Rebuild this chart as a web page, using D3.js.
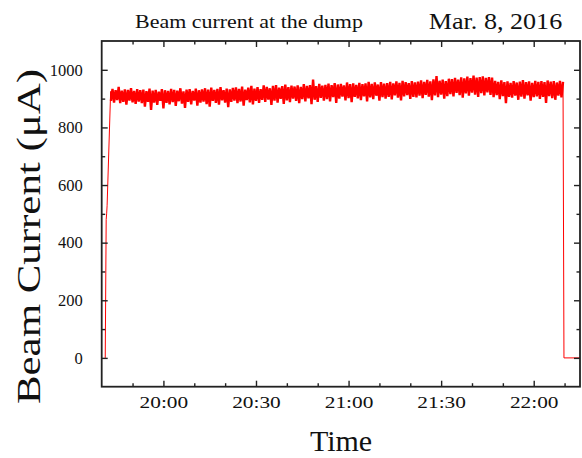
<!DOCTYPE html>
<html>
<head>
<meta charset="utf-8">
<script src="https://cdn.jsdelivr.net/npm/d3@7"></script>
<style>
  html, body { margin: 0; padding: 0; background: #fff; }
  svg { display: block; }
</style>
</head>
<body>
<svg id="chart" width="582" height="458"></svg>
<script>
// ---------------- data ----------------
const chartTitle = "Beam current at the dump";
const chartDate = "Mar. 8, 2016";
const xTitle = "Time";
const yTitle = "Beam Current (\u03bcA)";

const day = "2016-03-08";
const xDomainTimes = ["19:40", "22:15"];
const xMajorTicks = ["20:00", "20:30", "21:00", "21:30", "22:00"];
const xMinorTicks = ["19:50", "20:10", "20:20", "20:40", "20:50", "21:10", "21:20", "21:40", "21:50", "22:10"];
const yDomain = [-100, 1100];
const yMajorTicks = [0, 200, 400, 600, 800, 1000];
const yMinorTicks = [100, 300, 500, 700, 900];

// beam switch-on (minutes after 19:40, µA)
const rampMinutes = [1.15, 1.45, 1.6, 1.75, 2.9];
const rampValues  = [0, 480, 500, 528, 925];

// beam current samples every 0.5 min from 19:43 (alternating low / high readings of the noisy trace)
const noiseStartMinute = 3;
const noiseStepMinute = 0.5;
const noiseValues = [
  892,934,886,929,895,941,884,928,889,932,879,930,893,936,887,927,882,933,890,929,
  884,931,872,926,889,935,861,928,886,930,878,924,892,933,866,929,885,927,880,934,
  888,930,875,928,891,936,883,925,868,931,889,933,880,927,893,935,876,929,886,932,
  890,936,881,931,872,938,892,930,885,934,879,940,894,929,886,935,870,932,889,937,
  893,939,884,934,890,942,876,931,895,938,887,944,880,935,892,940,885,933,896,946,
  889,941,897,936,878,944,893,947,886,938,899,943,882,949,894,940,888,945,900,942,
  892,946,884,941,898,950,890,944,901,947,881,966,896,943,889,951,903,945,893,948,
  898,952,890,947,905,954,885,949,900,951,907,946,894,956,902,950,888,953,906,948,
  901,955,895,950,908,953,890,958,904,951,898,956,910,949,893,957,905,952,900,954,
  906,958,897,953,911,960,903,955,894,962,908,957,912,954,899,961,906,956,904,959,
  910,963,902,958,913,965,907,960,895,967,911,978,905,962,914,966,900,961,909,969,
  916,968,908,972,920,966,912,974,903,970,918,976,910,971,921,980,914,973,906,975,
  919,977,911,972,922,975,913,973,905,962,912,958,898,963,909,957,884,960,906,955,
  903,961,910,956,896,959,907,964,900,957,911,960,893,955,905,962,908,958,899,961,
  906,957,885,963,909,959,902,961,896,956,910,962,904,958
];

// beam switch-off
const tailMinutes = [149.8, 156];
const tailValues  = [0, 0];

// ---------------- drawing ----------------
const W = 582, H = 458;
const M = { left: 101.7, right: 2, top: 41, bottom: 71.3 };
const FONT = '"Liberation Serif", "Times New Roman", serif';
const svg = d3.select("#chart");
const parse = d3.timeParse("%Y-%m-%d %H:%M");
const t = s => parse(day + " " + s);
const t0 = t(xDomainTimes[0]);
const fromMin = m => new Date(t0.getTime() + m * 60000);

const x = d3.scaleTime().domain(xDomainTimes.map(t)).range([M.left, W - M.right]);
const y = d3.scaleLinear().domain(yDomain).range([H - M.bottom, M.top]);

const rampPts = rampMinutes.map((m, i) => [fromMin(m), rampValues[i]]);
const noisePts = noiseValues.map((v, i) => [fromMin(noiseStartMinute + i * noiseStepMinute), v]);
const tailPts = tailMinutes.map((m, i) => [fromMin(m), tailValues[i]]);

svg.append("defs").append("clipPath").attr("id", "clip")
  .append("rect").attr("x", M.left).attr("y", M.top)
  .attr("width", W - M.right - M.left).attr("height", H - M.bottom - M.top);

const line = d3.line().x(d => x(d[0])).y(d => y(d[1]));
const plot = svg.append("g").attr("clip-path", "url(#clip)");
plot.append("path")
  .datum(rampPts.concat([noisePts[0]]))
  .attr("fill", "none").attr("stroke", "#ff0000").attr("stroke-width", 1)
  .attr("d", line);
plot.append("path")
  .datum([noisePts[noisePts.length - 1]].concat(tailPts))
  .attr("fill", "none").attr("stroke", "#ff0000").attr("stroke-width", 1)
  .attr("d", line);
plot.append("path")
  .datum(noisePts)
  .attr("fill", "none").attr("stroke", "#ff0000").attr("stroke-width", 2.4)
  .attr("stroke-linejoin", "bevel")
  .attr("d", line);

const axisColor = "#222";
const majorLen = 6, minorLen = 3.5;
function styleAxis(g) {
  g.attr("font-family", null).attr("font-size", null);
  g.select(".domain").remove();
  g.selectAll(".tick line").attr("stroke", axisColor).attr("stroke-width", 1.4);
}

// bottom
const gB = svg.append("g").attr("transform", `translate(0,${H - M.bottom})`)
  .call(d3.axisBottom(x).tickValues(xMajorTicks.map(t)).tickSize(-majorLen).tickPadding(9)
        .tickFormat(d3.timeFormat("%H:%M")));
styleAxis(gB);
gB.selectAll(".tick text")
  .style("font-family", FONT).style("font-size", "17.5px").attr("fill", "#111")
  .attr("transform", "scale(1.22,1)");
svg.append("g").attr("transform", `translate(0,${H - M.bottom})`)
  .call(d3.axisBottom(x).tickValues(xMinorTicks.map(t)).tickSize(-minorLen).tickFormat(""))
  .call(styleAxis);
// top
svg.append("g").attr("transform", `translate(0,${M.top})`)
  .call(d3.axisTop(x).tickValues(xMajorTicks.map(t)).tickSize(-majorLen).tickFormat(""))
  .call(styleAxis);
svg.append("g").attr("transform", `translate(0,${M.top})`)
  .call(d3.axisTop(x).tickValues(xMinorTicks.map(t)).tickSize(-minorLen).tickFormat(""))
  .call(styleAxis);
// left
const gL = svg.append("g").attr("transform", `translate(${M.left},0)`)
  .call(d3.axisLeft(y).tickValues(yMajorTicks).tickSize(-majorLen).tickPadding(19)
        .tickFormat(d3.format("d")));
styleAxis(gL);
gL.selectAll(".tick text")
  .style("font-family", FONT).style("font-size", "16.5px").attr("fill", "#111");
svg.append("g").attr("transform", `translate(${M.left},0)`)
  .call(d3.axisLeft(y).tickValues(yMinorTicks).tickSize(-minorLen).tickFormat(""))
  .call(styleAxis);
// right
svg.append("g").attr("transform", `translate(${W - M.right},0)`)
  .call(d3.axisRight(y).tickValues(yMajorTicks).tickSize(-majorLen).tickFormat(""))
  .call(styleAxis);
svg.append("g").attr("transform", `translate(${W - M.right},0)`)
  .call(d3.axisRight(y).tickValues(yMinorTicks).tickSize(-minorLen).tickFormat(""))
  .call(styleAxis);

// frame
svg.append("rect")
  .attr("x", M.left).attr("y", M.top)
  .attr("width", W - M.right - M.left).attr("height", H - M.bottom - M.top)
  .attr("fill", "none").attr("stroke", axisColor).attr("stroke-width", 1.8);

// titles
function title(txt, tf, size) {
  svg.append("text").attr("transform", tf).attr("text-anchor", "middle")
    .style("font-family", FONT).style("font-size", size + "px").attr("fill", "#111").text(txt);
}
title(chartTitle, "translate(249,27.5) scale(1.18,1)", 18.6);
title(chartDate, "translate(495.5,28.5) scale(1.15,1)", 22.7);
title(xTitle, "translate(341,451)", 30);
title(yTitle, "translate(40,236.5) rotate(-90) scale(1.3,1)", 33);
</script>
</body>
</html>
